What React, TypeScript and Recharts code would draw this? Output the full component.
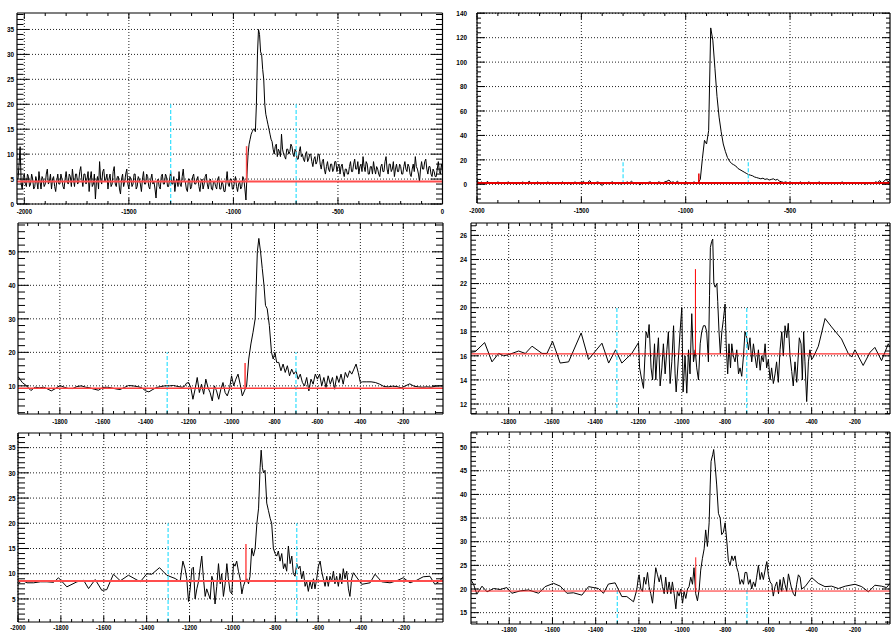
import React from "react";
import { LineChart, Line, XAxis, YAxis, ReferenceLine } from "recharts";

// ---- traces read off the six pads ----
// pad 1 (top left): one sample every 5 from -2030
const P1_START = -2030;
const P1_STEP = 5;
const P1_VALUES = [
  5, 8, 11.5, 4, 3, 5.5, 6, 4, 3.5, 6, 5.5, 3.5, 4, 6, 5, 3, 3.5, 5.5, 4.5, 3,
  6.5, 4.5, 3, 5.5, 5, 3.5, 4, 6, 7, 4, 4.5, 6, 3, 5, 5.5, 3.5, 2.5, 4.5, 6, 4,
  4, 6, 5, 3.5, 3, 5, 6.5, 4.5, 4, 6, 5.5, 3.5, 7, 5, 3.5, 6, 6, 4, 4.5, 6.5,
  7.5, 5, 3.5, 6, 6, 4, 5, 6.5, 2.5, 5, 6.5, 3.5, 4, 6, 1, 4.5, 5.5, 3, 8.5, 5,
  4, 6.5, 7, 4.5, 5, 6, 3, 5, 6, 3.5, 4, 6.5, 7.5, 4, 3.5, 5.5, 5.5, 3, 2, 5,
  6, 3.5, 4.5, 6, 7, 4, 3, 5.5, 5, 3.5, 4, 6, 6, 3, 3.5, 5.5, 5, 4, 2.5, 5,
  6.5, 4, 4, 6, 5.5, 3.5, 3, 5, 6, 4, 4.5, 3, 1.2, 4.5, 5, 3.5, 3, 5.5, 6, 4,
  4, 6, 5.5, 3.5, 3.5, 5, 6.5, 4, 4, 5.5, 2.5, 4.5, 5, 3.5, 6.5, 4, 3.5, 5.5, 7, 4.5,
  4.5, 3, 2.5, 5, 5, 3, 3.5, 5.5, 6, 4, 4, 5, 5.5, 3.5, 2.5, 4.5, 5, 3, 4, 5.5,
  6, 4, 3, 4.5, 5, 3, 2.8, 4.5, 4.5, 3.5, 3, 5, 5.5, 3, 3, 4.5, 4, 2.5, 2.5, 4.5,
  6.5, 4, 3.5, 5, 5, 3, 3, 4.5, 5.5, 3.5, 2.5, 4, 4.5, 3, 3.5, 5.5, 5, 3, 0.8, 6,
  10, 12, 13, 14, 14.5, 15, 15, 14.5, 20, 30, 35, 34, 30.5, 30, 27, 25, 20, 18, 17, 16,
  15, 14, 13, 12.5, 11, 10, 11.5, 12, 9.5, 11, 10.5, 9.5, 14, 11, 10, 9.5, 9, 11, 11, 10,
  10.5, 12, 11.5, 10, 9.5, 11, 10.5, 9, 9, 10.5, 11.5, 9.5, 10, 9, 8.5, 10, 10.5, 8.5, 9, 10,
  10, 8.5, 7.5, 9, 9.5, 8, 8.5, 10, 10, 8, 7, 8.5, 9, 7, 6, 7.5, 8.5, 7, 6.5, 8,
  8, 6.5, 7, 8.5, 8.5, 6.5, 7.5, 8, 6, 7.5, 8, 6.5, 5.5, 7, 7, 6, 6, 7.5, 8.5, 6.5,
  6.5, 8, 9, 7, 7, 8.5, 6, 7.5, 8, 6.5, 9.5, 7.5, 6.5, 8.5, 8, 6, 6, 7.5, 7.5, 6,
  8.5, 7, 6, 7.5, 7, 6, 5.5, 7.5, 8, 6.5, 6.5, 8.5, 9.5, 7, 6, 8, 8, 6.5, 7, 8.5,
  5.5, 7, 8, 6.5, 6.5, 8, 7.5, 6, 6, 7.5, 8.5, 7, 6.5, 8, 7.5, 6, 5.5, 7, 8, 6.5,
  9.5, 7.5, 7, 6, 4.5, 7, 8.5, 7, 7, 8.5, 9, 7, 6, 7.5, 7.5, 6, 5.5, 7, 6.5, 5.5,
  5.5, 7, 8.5, 6.5, 6, 8, 7,
];

// pad 2 (top right): one sample every 10 from -2000
const P2_START = -2000;
const P2_STEP = 10;
const P2_VALUES = [
  3.5, 0.5, 2, 1, 0, 2.5, 0.5, 1.5, 1, 0.5,
  2, 1, 1.5, 0.5, 1, 2, 0.5, 1.5, 1, 0,
  1.5, 1, 2, 0.5, 1, 2.5, 1, 1.5, 0.5, 2,
  1, 0.5, 1.5, 1, 2, 0.5, 1.5, 1, 0.5, 1.5,
  1, 2, 0.5, 1, 1.5, 0, 1, 2, 0.5, 1.5,
  1, 2.5, 0.5, 1.5, 3, 1, 0.5, 1.5, 2, 0.5,
  -1, 1, 1.5, 0.5, 1.5, 2, 0.5, 1, 1.5, 0,
  1.5, 1, 2, 1, 2.5, 1, 0.5, 1.5, -0.5, 1,
  1.5, 0.5, 1.5, 2, 1, 1.5, 0.5, 2, 1.5, 1,
  2, 2.5, 3.5, 1.5, 2, 1, 2.5, 1, 1.5, 0.5,
  2, 1, 1.5, 1, 2, 1, 1.5, 4, 21, 36,
  33, 44, 128, 118, 95, 72, 55, 43, 33, 27,
  22, 19, 17, 16, 15, 13, 12, 11, 10, 9,
  8, 7.5, 7, 6, 5.5, 5, 4.5, 5, 4, 4.5,
  3.5, 4, 4.5, 3.5, 4, 2.5, 2, 1.5, 2, 1,
  1, 1.5, 0.5, 1.5, 1, 2, 0.5, 1.5, 1, 2,
  1, 0.5, 1.5, 1, 2, 0.5, 1, 1.5, 0.5, 1,
  1.5, 1, 0.5, 1.5, 1, 2, 0.5, 1, 1.5, 1,
  0.5, 1.5, 1, 0.5, 1, 1.5, 0, 1, 1.5, 0.5,
  1, 2, 1.5, 3, 1, 2.5, 4, 2, 3.5,
];

// pads 3-6: [x, y] points (sparse where the trace is smooth)
const P3_TRACE: [number, number][] = [
  [-1995, 12.8], [-1975, 11], [-1955, 10], [-1935, 8.6], [-1915, 9.6], [-1895, 9.4], [-1875, 9.6],
  [-1855, 9], [-1840, 8.5], [-1820, 9.2], [-1800, 10.1], [-1780, 9.6], [-1760, 9.2], [-1740, 9.2],
  [-1720, 9.8], [-1700, 10], [-1680, 9.6], [-1660, 9.4], [-1640, 9], [-1620, 8.7], [-1600, 9.5],
  [-1580, 9.6], [-1560, 9.4], [-1540, 9.1], [-1520, 8.9], [-1500, 9.5], [-1480, 10.1], [-1460, 10],
  [-1440, 9.8], [-1420, 9.5], [-1400, 8.5], [-1385, 8.2], [-1370, 8.8], [-1350, 9.5], [-1330, 9.8],
  [-1310, 10], [-1290, 10], [-1270, 10.1], [-1250, 9.8], [-1230, 9.6], [-1220, 9.8],
  [-1210, 10.8], [-1200, 11], [-1190, 9.5], [-1180, 6], [-1170, 9], [-1160, 12.5], [-1150, 8],
  [-1140, 10.5], [-1130, 7.5], [-1120, 12], [-1110, 9.5], [-1100, 8], [-1090, 5.5], [-1080, 10],
  [-1070, 8.5], [-1060, 6], [-1050, 9], [-1040, 11], [-1030, 8], [-1020, 7], [-1010, 9], [-1000, 13],
  [-990, 10], [-980, 12], [-970, 13.5], [-960, 10.5], [-950, 7], [-940, 8.5], [-930, 10], [-920, 18],
  [-910, 22.5], [-900, 26], [-890, 30], [-880, 50], [-873, 54], [-865, 50], [-857, 45], [-849, 40],
  [-842, 34], [-834, 33], [-824, 28], [-814, 20], [-806, 18], [-798, 20], [-790, 17], [-780, 17],
  [-770, 14.5], [-760, 16.5], [-750, 14], [-740, 16], [-730, 13], [-720, 15], [-710, 13.5], [-700, 14.5],
  [-690, 12], [-680, 13.5], [-670, 11], [-660, 10], [-650, 12.5], [-640, 8.5], [-630, 12], [-620, 10.5],
  [-610, 13.5], [-600, 12], [-590, 13.5], [-580, 10], [-570, 12.5], [-560, 9.5], [-550, 13], [-540, 10.5],
  [-530, 12.5], [-520, 9], [-510, 13], [-500, 11], [-490, 13.5], [-480, 10.5], [-470, 14], [-460, 12.5],
  [-450, 14.5], [-440, 13.5], [-430, 15], [-420, 16.5], [-410, 14], [-400, 11],
  [-390, 11.2], [-370, 11.2], [-350, 11.2], [-330, 11], [-310, 10.5], [-290, 9.8], [-270, 9.7],
  [-250, 9.9], [-230, 9.8], [-210, 9.4], [-190, 10], [-170, 10.6], [-150, 9.9], [-130, 9.7],
  [-110, 9.6], [-90, 9.7], [-70, 9.6], [-50, 9.9], [-30, 10], [-15, 10],
];

const P4_TRACE: [number, number][] = [
  [-1974, 16.3], [-1954, 16.35], [-1911, 17.1], [-1877, 15.5], [-1846, 16.2], [-1823, 16], [-1800, 16.1],
  [-1754, 16.4], [-1723, 16.2], [-1692, 16.8], [-1646, 16.2], [-1623, 16.2], [-1597, 17.2], [-1562, 15.4],
  [-1523, 15.5], [-1465, 17.9], [-1431, 15.7], [-1369, 17.05], [-1338, 15.4], [-1306, 16.5], [-1277, 15.4],
  [-1231, 16.2], [-1200, 17.1],
  [-1195, 15], [-1185, 14], [-1177, 13.3], [-1169, 16.5], [-1165, 18], [-1157, 17.5], [-1151, 18.6],
  [-1142, 15], [-1135, 14], [-1126, 17], [-1120, 14], [-1114, 16], [-1108, 17.5], [-1100, 13.5],
  [-1092, 15], [-1085, 17], [-1077, 14.5], [-1069, 16.5], [-1062, 18], [-1054, 13.7], [-1046, 15.5],
  [-1038, 18.5], [-1031, 14.5], [-1026, 13], [-1015, 16], [-1008, 18], [-1000, 20], [-994, 13],
  [-985, 16], [-977, 12.9], [-969, 16.5], [-962, 14.5], [-954, 19.5], [-946, 15.5], [-938, 16.5],
  [-931, 15], [-923, 14], [-915, 17], [-908, 18], [-900, 18.5], [-892, 18.5], [-885, 18],
  [-877, 15.5], [-872, 21], [-868, 25], [-862, 25.5], [-857, 25.7], [-852, 22], [-846, 21.7],
  [-838, 22], [-834, 20.5], [-828, 18], [-822, 16.2], [-815, 18], [-808, 19], [-800, 20.3],
  [-795, 17], [-788, 14.5], [-782, 17], [-775, 15], [-769, 17], [-762, 16], [-754, 15.5],
  [-746, 16.5], [-738, 14.5], [-731, 15], [-723, 14.3], [-715, 16], [-708, 18], [-700, 17.5],
  [-692, 16.5], [-685, 17.5], [-677, 15.5], [-669, 17], [-662, 16], [-654, 15], [-646, 16.5],
  [-638, 14.8], [-631, 16], [-623, 15.5], [-615, 17], [-608, 15], [-600, 15.7], [-592, 14],
  [-585, 15], [-577, 13.7], [-569, 14.5], [-562, 15.5], [-554, 13.8], [-546, 16.5], [-538, 18],
  [-531, 16], [-523, 18.5], [-515, 17.5], [-508, 18.7], [-500, 16], [-492, 14.7], [-485, 13.5],
  [-477, 15.5], [-469, 13.8], [-462, 16], [-457, 17.5], [-449, 17], [-443, 14], [-437, 18],
  [-431, 15.5], [-423, 12.2], [-415, 15.5], [-408, 16.5], [-400, 15.7],
  [-392, 15.9], [-369, 16.8], [-338, 19.1], [-308, 18.4], [-262, 17.4], [-231, 16.2], [-215, 15.9],
  [-200, 16.5], [-162, 15.2], [-130, 16.3], [-108, 16.7], [-77, 15.6], [-46, 17], [-38, 16.7],
];

const P5_TRACE: [number, number][] = [
  [-1997, 8.05], [-1982, 8.7], [-1958, 8.2], [-1927, 8.2], [-1896, 8.4], [-1865, 8.4], [-1834, 8.3],
  [-1811, 9.2], [-1772, 7.4], [-1725, 8.4], [-1694, 8.7], [-1671, 7.05], [-1640, 8.85], [-1609, 6.7],
  [-1586, 6.85], [-1555, 9.9], [-1523, 8.6], [-1485, 9.7], [-1430, 8.4], [-1399, 10], [-1376, 9.9],
  [-1340, 11.2], [-1306, 9.7], [-1267, 9.05], [-1244, 8.4],
  [-1231, 12.5], [-1221, 11], [-1213, 9], [-1205, 4.5], [-1197, 7], [-1189, 11], [-1182, 11.3],
  [-1174, 5], [-1166, 7], [-1158, 8.5], [-1151, 11], [-1143, 13.5], [-1135, 9], [-1127, 5.5],
  [-1120, 7], [-1112, 6], [-1104, 5], [-1096, 9.5], [-1089, 8.5], [-1081, 4], [-1073, 7.5],
  [-1065, 12], [-1057, 8], [-1050, 10], [-1042, 5.5], [-1034, 8], [-1026, 12], [-1019, 9],
  [-1011, 6.5], [-1003, 6], [-995, 12], [-988, 11.5], [-980, 12.5], [-972, 10.5], [-964, 9],
  [-956, 6], [-949, 7.5], [-941, 8.5], [-933, 9], [-925, 8], [-918, 9.5], [-910, 15],
  [-902, 13.5], [-894, 15], [-886, 20], [-878, 23], [-871, 31], [-866, 34.5], [-860, 31],
  [-855, 30], [-848, 30.5], [-840, 24], [-832, 22.5], [-824, 21], [-817, 20], [-809, 15],
  [-801, 14], [-793, 13.5], [-786, 14.5], [-778, 12.5], [-770, 14], [-762, 11], [-755, 12],
  [-747, 10.5], [-739, 15.5], [-731, 12], [-723, 13.5], [-716, 10], [-708, 9.5], [-700, 12],
  [-692, 11], [-685, 11.5], [-677, 9], [-669, 10.5], [-661, 7.5], [-654, 8.5], [-646, 6.5],
  [-638, 8.5], [-630, 7], [-622, 9], [-615, 7], [-607, 9], [-599, 11.5], [-591, 12.5],
  [-584, 10.5], [-576, 9], [-568, 7.5], [-560, 9.5], [-553, 7.5], [-545, 9.5], [-537, 8.5],
  [-529, 10.5], [-522, 8], [-514, 9.5], [-506, 7.5], [-498, 10], [-490, 8], [-483, 11],
  [-475, 9], [-467, 10.5], [-459, 7], [-452, 5.5], [-444, 9],
  [-436, 10.2], [-397, 7.9], [-358, 8.2], [-335, 9.9], [-304, 8.4], [-265, 8.2], [-234, 8.6],
  [-203, 9.2], [-172, 8.2], [-141, 8.7], [-110, 9.4], [-79, 9.5], [-56, 7.9], [-32, 8.6], [-18, 9.4],
];

const P6_TRACE: [number, number][] = [
  [-1977, 21.9], [-1965, 21], [-1950, 18.9], [-1926, 20.6], [-1903, 19.4], [-1872, 20.1], [-1842, 19.9],
  [-1811, 20.3], [-1788, 19.1], [-1749, 19.6], [-1711, 19.8], [-1664, 19.1], [-1634, 20.5], [-1595, 21.2],
  [-1564, 20.6], [-1533, 19.1], [-1503, 19.2], [-1464, 18.7], [-1433, 20.5], [-1387, 20.1], [-1364, 19.1],
  [-1341, 21.05], [-1310, 21.3], [-1294, 19.8], [-1279, 18.4], [-1256, 18.4], [-1225, 17.3], [-1210, 19.8],
  [-1202, 22.6],
  [-1199, 23], [-1191, 20], [-1183, 19.5], [-1176, 22.5], [-1168, 21], [-1160, 23.5], [-1153, 20.5],
  [-1145, 19], [-1137, 17], [-1129, 21], [-1122, 24.5], [-1114, 23], [-1106, 21.5], [-1099, 23],
  [-1091, 20.5], [-1083, 19], [-1076, 22.5], [-1068, 19], [-1060, 21.5], [-1052, 19], [-1045, 21.5],
  [-1037, 19], [-1029, 15.8], [-1022, 19.5], [-1014, 18.5], [-1006, 20], [-998, 17], [-991, 19.5],
  [-983, 18], [-975, 20], [-968, 20.5], [-960, 22.5], [-952, 21], [-945, 24.5], [-937, 19],
  [-929, 17.5], [-921, 20], [-914, 24], [-906, 26.5], [-898, 28.5], [-891, 32.5], [-883, 29],
  [-875, 34], [-870, 42], [-866, 47], [-858, 48.5], [-854, 49.5], [-847, 46], [-840, 42],
  [-832, 36], [-824, 35], [-817, 31.5], [-809, 32], [-801, 34], [-793, 30], [-786, 26],
  [-778, 25], [-770, 27], [-763, 26], [-755, 27], [-747, 24.5], [-740, 23.5], [-732, 21],
  [-724, 22], [-716, 21], [-709, 23.5], [-701, 23.5], [-693, 21], [-685, 22], [-678, 20],
  [-670, 21.5], [-662, 20.5], [-655, 22.5], [-647, 25], [-639, 22], [-632, 23.5], [-624, 22],
  [-616, 24], [-608, 25.8], [-601, 23], [-593, 21.5], [-585, 21], [-578, 18.5], [-570, 20.5],
  [-562, 21.5], [-554, 19], [-547, 22], [-539, 19.5], [-531, 22.5], [-524, 21], [-516, 19.5],
  [-508, 23.2], [-500, 21.5], [-493, 20], [-485, 19], [-477, 18.5], [-470, 21], [-462, 23],
  [-454, 22.5], [-447, 20],
  [-431, 20.5], [-400, 22.4], [-370, 21.2], [-339, 20.5], [-308, 20.6], [-277, 20.1], [-245, 20.6],
  [-223, 20.8], [-200, 21], [-169, 20.5], [-138, 19.4], [-108, 20.8], [-77, 20.6], [-54, 20.3], [-38, 21.2],
];

// ---- markers ----
const CYAN_X = [-1300, -700];
const CYAN_TOP = 20;
const START_X = -937;
const BASELINES = [4.5, 1, 9.3, 16.16, 8.58, 19.57];
const START_TOPS = [11.6, 8.8, 16.8, 23.2, 15.9, 26.7];

// ---- tick labels ----
const X_LABELS_WIDE = [-2000, -1500, -1000, -500, 0];
const X_LABELS_NARROW = [-2000, -1800, -1600, -1400, -1200, -1000, -800, -600, -400, -200];
const Y_LABELS_1 = [0, 5, 10, 15, 20, 25, 30, 35];
const Y_LABELS_2 = [0, 20, 40, 60, 80, 100, 120, 140];
const Y_LABELS_3 = [10, 20, 30, 40, 50];
const Y_LABELS_4 = [12, 14, 16, 18, 20, 22, 24, 26];
const Y_LABELS_5 = [5, 10, 15, 20, 25, 30, 35];
const Y_LABELS_6 = [15, 20, 25, 30, 35, 40, 45, 50];

type Pt = { x: number; y: number };
const fromValues = (start: number, step: number, vals: number[]): Pt[] =>
  vals.map((y, i) => ({ x: start + i * step, y }));
const fromPairs = (pairs: [number, number][]): Pt[] => pairs.map(([x, y]) => ({ x, y }));

const steps = (from: number, to: number, step: number) => {
  const out: number[] = [];
  const n0 = Math.ceil(from / step - 1e-9);
  const n1 = Math.floor(to / step + 1e-9);
  for (let k = n0; k <= n1; k++) out.push(Math.round(k * step * 1000) / 1000);
  return out;
};

type Spec = {
  left: number; top: number; w: number; h: number;
  xDomain: [number, number]; yDomain: [number, number];
  xLabels: number[]; yLabels: number[];
  xMinor: number; yMinor: number;
  yMaj: number; yMin: number; labelGap: number; xLabelDy: number;
  red: string; redWidth: number;
};

const PADS: Spec[] = [
  { left: 17, top: 13, w: 425.5, h: 191, xDomain: [-2035, 0], yDomain: [0, 38.3],
    xLabels: X_LABELS_WIDE, yLabels: Y_LABELS_1, xMinor: 100, yMinor: 1,
    yMaj: 12, yMin: 6.5, labelGap: 3, xLabelDy: 9.5, red: "#ff4d4d", redWidth: 2 },
  { left: 477, top: 13, w: 413, h: 190, xDomain: [-2000, -21], yDomain: [-15.3, 140.2],
    xLabels: X_LABELS_WIDE, yLabels: Y_LABELS_2, xMinor: 100, yMinor: 4,
    yMaj: 8, yMin: 4, labelGap: 10, xLabelDy: 10, red: "#e60000", redWidth: 2 },
  { left: 18, top: 223, w: 425, h: 191, xDomain: [-1995, -15], yDomain: [1.6, 58.6],
    xLabels: X_LABELS_NARROW, yLabels: Y_LABELS_3, xMinor: 50, yMinor: 2,
    yMaj: 11, yMin: 7, labelGap: 2.5, xLabelDy: 10, red: "#ff3b3b", redWidth: 1.5 },
  { left: 471, top: 223, w: 419, h: 191, xDomain: [-1974, -38], yDomain: [11.17, 27.03],
    xLabels: X_LABELS_NARROW, yLabels: Y_LABELS_4, xMinor: 50, yMinor: 0.4,
    yMaj: 8, yMin: 5, labelGap: 4, xLabelDy: 10, red: "#ff0000", redWidth: 1 },
  { left: 18, top: 433, w: 425, h: 189, xDomain: [-2000, -18], yDomain: [0.43, 37.9],
    xLabels: X_LABELS_NARROW, yLabels: Y_LABELS_5, xMinor: 50, yMinor: 1,
    yMaj: 11, yMin: 7, labelGap: 2.5, xLabelDy: 7.5, red: "#ff4d4d", redWidth: 2 },
  { left: 471, top: 432, w: 419, h: 192, xDomain: [-1977, -38], yDomain: [12.6, 53.2],
    xLabels: X_LABELS_NARROW, yLabels: Y_LABELS_6, xMinor: 50, yMinor: 1,
    yMaj: 8, yMin: 5, labelGap: 4, xLabelDy: 7.5, red: "#ff2020", redWidth: 1 },
];

const TRACES: Pt[][] = [
  fromValues(P1_START, P1_STEP, P1_VALUES),
  fromValues(P2_START, P2_STEP, P2_VALUES),
  fromPairs(P3_TRACE),
  fromPairs(P4_TRACE),
  fromPairs(P5_TRACE),
  fromPairs(P6_TRACE),
];

const LABEL_STYLE: React.CSSProperties = {
  fontFamily: "'Liberation Sans', Arial, sans-serif",
  fontWeight: "bold",
  fontSize: 7.5,
  fill: "#000",
};

const isIn = (list: number[], v: number) => list.some((m) => Math.abs(m - v) < 1e-6);

function Pad({ spec, data, base, startTop }: { spec: Spec; data: Pt[]; base: number; startTop: number }) {
  const ML = 34, MT = 4, MR = 4, MB = 16;
  const [x0, x1] = spec.xDomain;
  const [y0, y1] = spec.yDomain;
  const xMajors = spec.xLabels.filter((v) => v >= x0 - 1e-9 && v <= x1 + 1e-9);
  const yMajors = spec.yLabels.filter((v) => v >= y0 - 1e-9 && v <= y1 + 1e-9);
  const xTicks = steps(x0, x1, spec.xMinor);
  const yTicks = steps(y0, y1, spec.yMinor);
  const cyanLow = Math.max(0, y0);
  // tick lengths in data units (ticks point inward, ROOT style)
  const dyPx = (y1 - y0) / spec.h;
  const dxPx = (x1 - x0) / spec.w;

  const xLabelTick = (props: any) => (
    <text transform={`translate(${props.x},${props.y + spec.xLabelDy}) scale(0.8,1)`}
      textAnchor="middle" style={LABEL_STYLE}>{String(props.payload.value)}</text>
  );
  const yLabelTick = (props: any) => (
    <text transform={`translate(${props.x - spec.labelGap},${props.y + 2.7}) scale(0.85,1)`}
      textAnchor="end" style={LABEL_STYLE}>{String(props.payload.value)}</text>
  );

  const tickLines: React.ReactNode[] = [];
  xTicks.forEach((v) => {
    const l = (isIn(xMajors, v) ? 6 : 3) * dyPx;
    tickLines.push(
      <ReferenceLine key={`xb${v}`} ifOverflow="visible" segment={[{ x: v, y: y0 }, { x: v, y: y0 + l }]} stroke="#000" strokeWidth={1} />,
      <ReferenceLine key={`xt${v}`} ifOverflow="visible" segment={[{ x: v, y: y1 }, { x: v, y: y1 - l }]} stroke="#000" strokeWidth={1} />
    );
  });
  yTicks.forEach((v) => {
    const l = (isIn(yMajors, v) ? spec.yMaj : spec.yMin) * dxPx;
    tickLines.push(
      <ReferenceLine key={`yl${v}`} ifOverflow="visible" segment={[{ x: x0, y: v }, { x: x0 + l, y: v }]} stroke="#000" strokeWidth={1} />,
      <ReferenceLine key={`yr${v}`} ifOverflow="visible" segment={[{ x: x1, y: v }, { x: x1 - l, y: v }]} stroke="#000" strokeWidth={1} />
    );
  });

  return (
    <div style={{ position: "absolute", left: spec.left - ML, top: spec.top - MT }}>
      <LineChart width={spec.w + ML + MR} height={spec.h + MT + MB} data={data}
        margin={{ top: MT, right: MR, bottom: 0, left: 0 }}>
        <XAxis dataKey="x" type="number" domain={spec.xDomain} allowDataOverflow ticks={xMajors}
          interval={0} height={MB} tickSize={0} tickMargin={0} tickLine={false} axisLine={false}
          tick={xLabelTick} />
        <YAxis type="number" domain={spec.yDomain} allowDataOverflow ticks={yMajors} interval={0}
          width={ML} tickSize={0} tickMargin={0} tickLine={false} axisLine={false}
          tick={yLabelTick} />

        {xMajors.map((v) => (
          <ReferenceLine key={`gx${v}`} x={v} stroke="#222" strokeWidth={1} strokeDasharray="1 2" />
        ))}
        {yMajors.map((v) => (
          <ReferenceLine key={`gy${v}`} y={v} stroke="#222" strokeWidth={1} strokeDasharray="1 2" />
        ))}

        <Line type="linear" dataKey="y" stroke="#000" strokeWidth={1} dot={false}
          isAnimationActive={false} />

        {CYAN_X.map((cx) => (
          <ReferenceLine key={`c${cx}`} segment={[{ x: cx, y: cyanLow }, { x: cx, y: CYAN_TOP }]}
            stroke="#33e0ff" strokeWidth={1.2} strokeDasharray="4 2" />
        ))}
        <ReferenceLine y={base} stroke={spec.red} strokeWidth={spec.redWidth} />
        <ReferenceLine segment={[{ x: START_X, y: base }, { x: START_X, y: startTop }]}
          stroke={spec.red} strokeWidth={spec.redWidth === 2 ? 1.5 : spec.redWidth} />

        {tickLines}
        {/* frame */}
        <ReferenceLine x={x0} ifOverflow="visible" stroke="#000" strokeWidth={1.2} />
        <ReferenceLine x={x1} ifOverflow="visible" stroke="#000" strokeWidth={1.2} />
        <ReferenceLine y={y0} ifOverflow="visible" stroke="#000" strokeWidth={1.2} />
        <ReferenceLine y={y1} ifOverflow="visible" stroke="#000" strokeWidth={1.2} />
      </LineChart>
    </div>
  );
}

export default function App() {
  return (
    <div style={{ position: "absolute", left: 0, top: 0, width: 891, height: 633, background: "#fff", overflow: "hidden" }}>
      {PADS.map((spec, i) => (
        <Pad key={i} spec={spec} data={TRACES[i]} base={BASELINES[i]} startTop={START_TOPS[i]} />
      ))}
    </div>
  );
}
